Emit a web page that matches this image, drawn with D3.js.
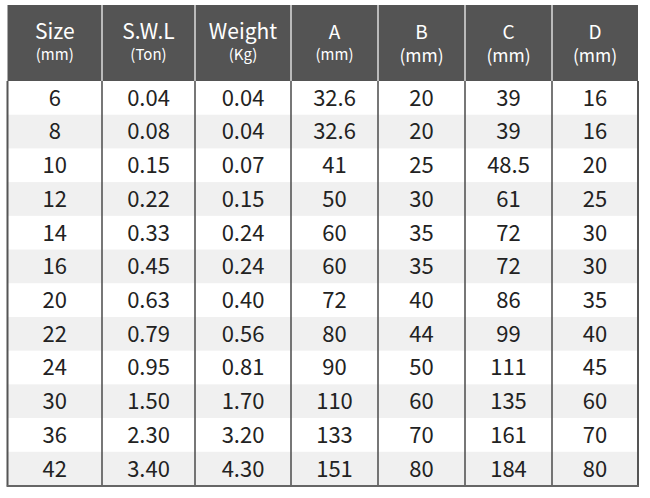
<!DOCTYPE html>
<html>
<head>
<meta charset="utf-8">
<script src="https://cdn.jsdelivr.net/npm/d3@7"></script>
<style>
  body { margin: 0; background: #fff; }
  svg { display: block; font-family: "Noto Sans CJK KR", "Noto Sans", sans-serif; }
</style>
</head>
<body>
<div id="chart"></div>
<script>
// table data
var columns = ["Size", "S.W.L", "Weight", "A", "B", "C", "D"];
var units = ["(mm)", "(Ton)", "(Kg)", "(mm)", "(mm)", "(mm)", "(mm)"];
var sizes = ["6", "8", "10", "12", "14", "16", "20", "22", "24", "30", "36", "42"];
var swl = ["0.04", "0.08", "0.15", "0.22", "0.33", "0.45", "0.63", "0.79", "0.95", "1.50", "2.30", "3.40"];
var weight = ["0.04", "0.04", "0.07", "0.15", "0.24", "0.24", "0.40", "0.56", "0.81", "1.70", "3.20", "4.30"];
var colA = ["32.6", "32.6", "41", "50", "60", "60", "72", "80", "90", "110", "133", "151"];
var colB = ["20", "20", "25", "30", "35", "35", "40", "44", "50", "60", "70", "80"];
var colC = ["39", "39", "48.5", "61", "72", "72", "86", "99", "111", "135", "161", "184"];
var colD = ["16", "16", "20", "25", "30", "30", "35", "40", "45", "60", "70", "80"];

var series = [sizes, swl, weight, colA, colB, colC, colD];

var width = 650, height = 498;
// note: "top" is taken by window.top, so use other names
var leftX = 7.5, rightX = 638, topY = 5, headBottom = 81, bottomY = 485.5;

// column widths are not quite equal in the original
var colWeights = [94.5, 93, 96, 87, 87, 87, 86];
var edges = [0];
colWeights.forEach(function(w, i) { edges.push(edges[i] + w); });
var x = d3.scaleLinear().domain([0, edges[edges.length - 1]]).range([leftX, rightX]);

var y = d3.scaleBand().domain(d3.range(sizes.length)).range([headBottom, bottomY]);

var svg = d3.select("#chart").append("svg")
  .attr("width", width).attr("height", height);

// header
svg.append("rect")
  .attr("x", leftX).attr("y", topY)
  .attr("width", rightX - leftX).attr("height", headBottom - topY)
  .style("fill", "#545454");

// body rows
svg.selectAll("rect.row").data(sizes).enter()
  .append("rect").attr("class", "row")
  .attr("x", leftX).attr("width", rightX - leftX)
  .attr("y", function(d, i) { return y(i); })
  .attr("height", y.bandwidth() + 0.5)
  .style("fill", function(d, i) { return i % 2 ? "#f0f0f0" : "#fff"; });

// header dividers (white)
svg.selectAll("line.hdiv").data(d3.range(1, columns.length)).enter()
  .append("line").attr("class", "hdiv")
  .attr("x1", function(i) { return x(edges[i]); })
  .attr("x2", function(i) { return x(edges[i]); })
  .attr("y1", topY).attr("y2", headBottom)
  .style("stroke", "#fff").style("stroke-width", 1.2);

// body dividers (dark)
svg.selectAll("line.bdiv").data(d3.range(0, columns.length + 1)).enter()
  .append("line").attr("class", "bdiv")
  .attr("x1", function(i) { return x(edges[i]); })
  .attr("x2", function(i) { return x(edges[i]); })
  .attr("y1", headBottom).attr("y2", bottomY)
  .style("stroke", "#555")
  .style("stroke-width", function(i) { return (i === 0 || i === columns.length) ? 2 : 1.6; });

// bottom border
svg.append("line")
  .attr("x1", leftX - 1).attr("x2", rightX + 1)
  .attr("y1", bottomY + 0.5).attr("y2", bottomY + 0.5)
  .style("stroke", "#666").style("stroke-width", 2.2);

var cx = function(i) { return x((edges[i] + edges[i + 1]) / 2); };

// header text
var titleSize = [21, 21, 21, 19, 19, 19, 19];
var unitSize = [15, 15, 15, 15, 17.5, 17.5, 17.5];
var head = svg.selectAll("g.head").data(columns).enter()
  .append("g").attr("class", "head");
head.append("text")
  .attr("x", function(d, i) { return cx(i); })
  .attr("y", 39)
  .attr("text-anchor", "middle")
  .style("fill", "#fff")
  .style("font-size", function(d, i) { return titleSize[i] + "px"; })
  .text(function(d) { return d; });
head.append("text")
  .attr("x", function(d, i) { return cx(i); })
  .attr("y", function(d, i) { return unitSize[i] > 16 ? 62 : 60; })
  .attr("text-anchor", "middle")
  .style("fill", "#fff")
  .style("font-size", function(d, i) { return unitSize[i] + "px"; })
  .text(function(d, i) { return units[i]; });

// body text
series.forEach(function(col, c) {
  svg.selectAll("text.c" + c).data(col).enter()
    .append("text").attr("class", "c" + c)
    .attr("x", cx(c))
    .attr("y", function(d, i) { return y(i) + y.bandwidth() / 2; })
    .attr("dy", "0.36em")
    .attr("text-anchor", "middle")
    .style("fill", "#222")
    .style("font-size", "22px")
    .text(function(d) { return d; });
});
</script>
</body>
</html>
